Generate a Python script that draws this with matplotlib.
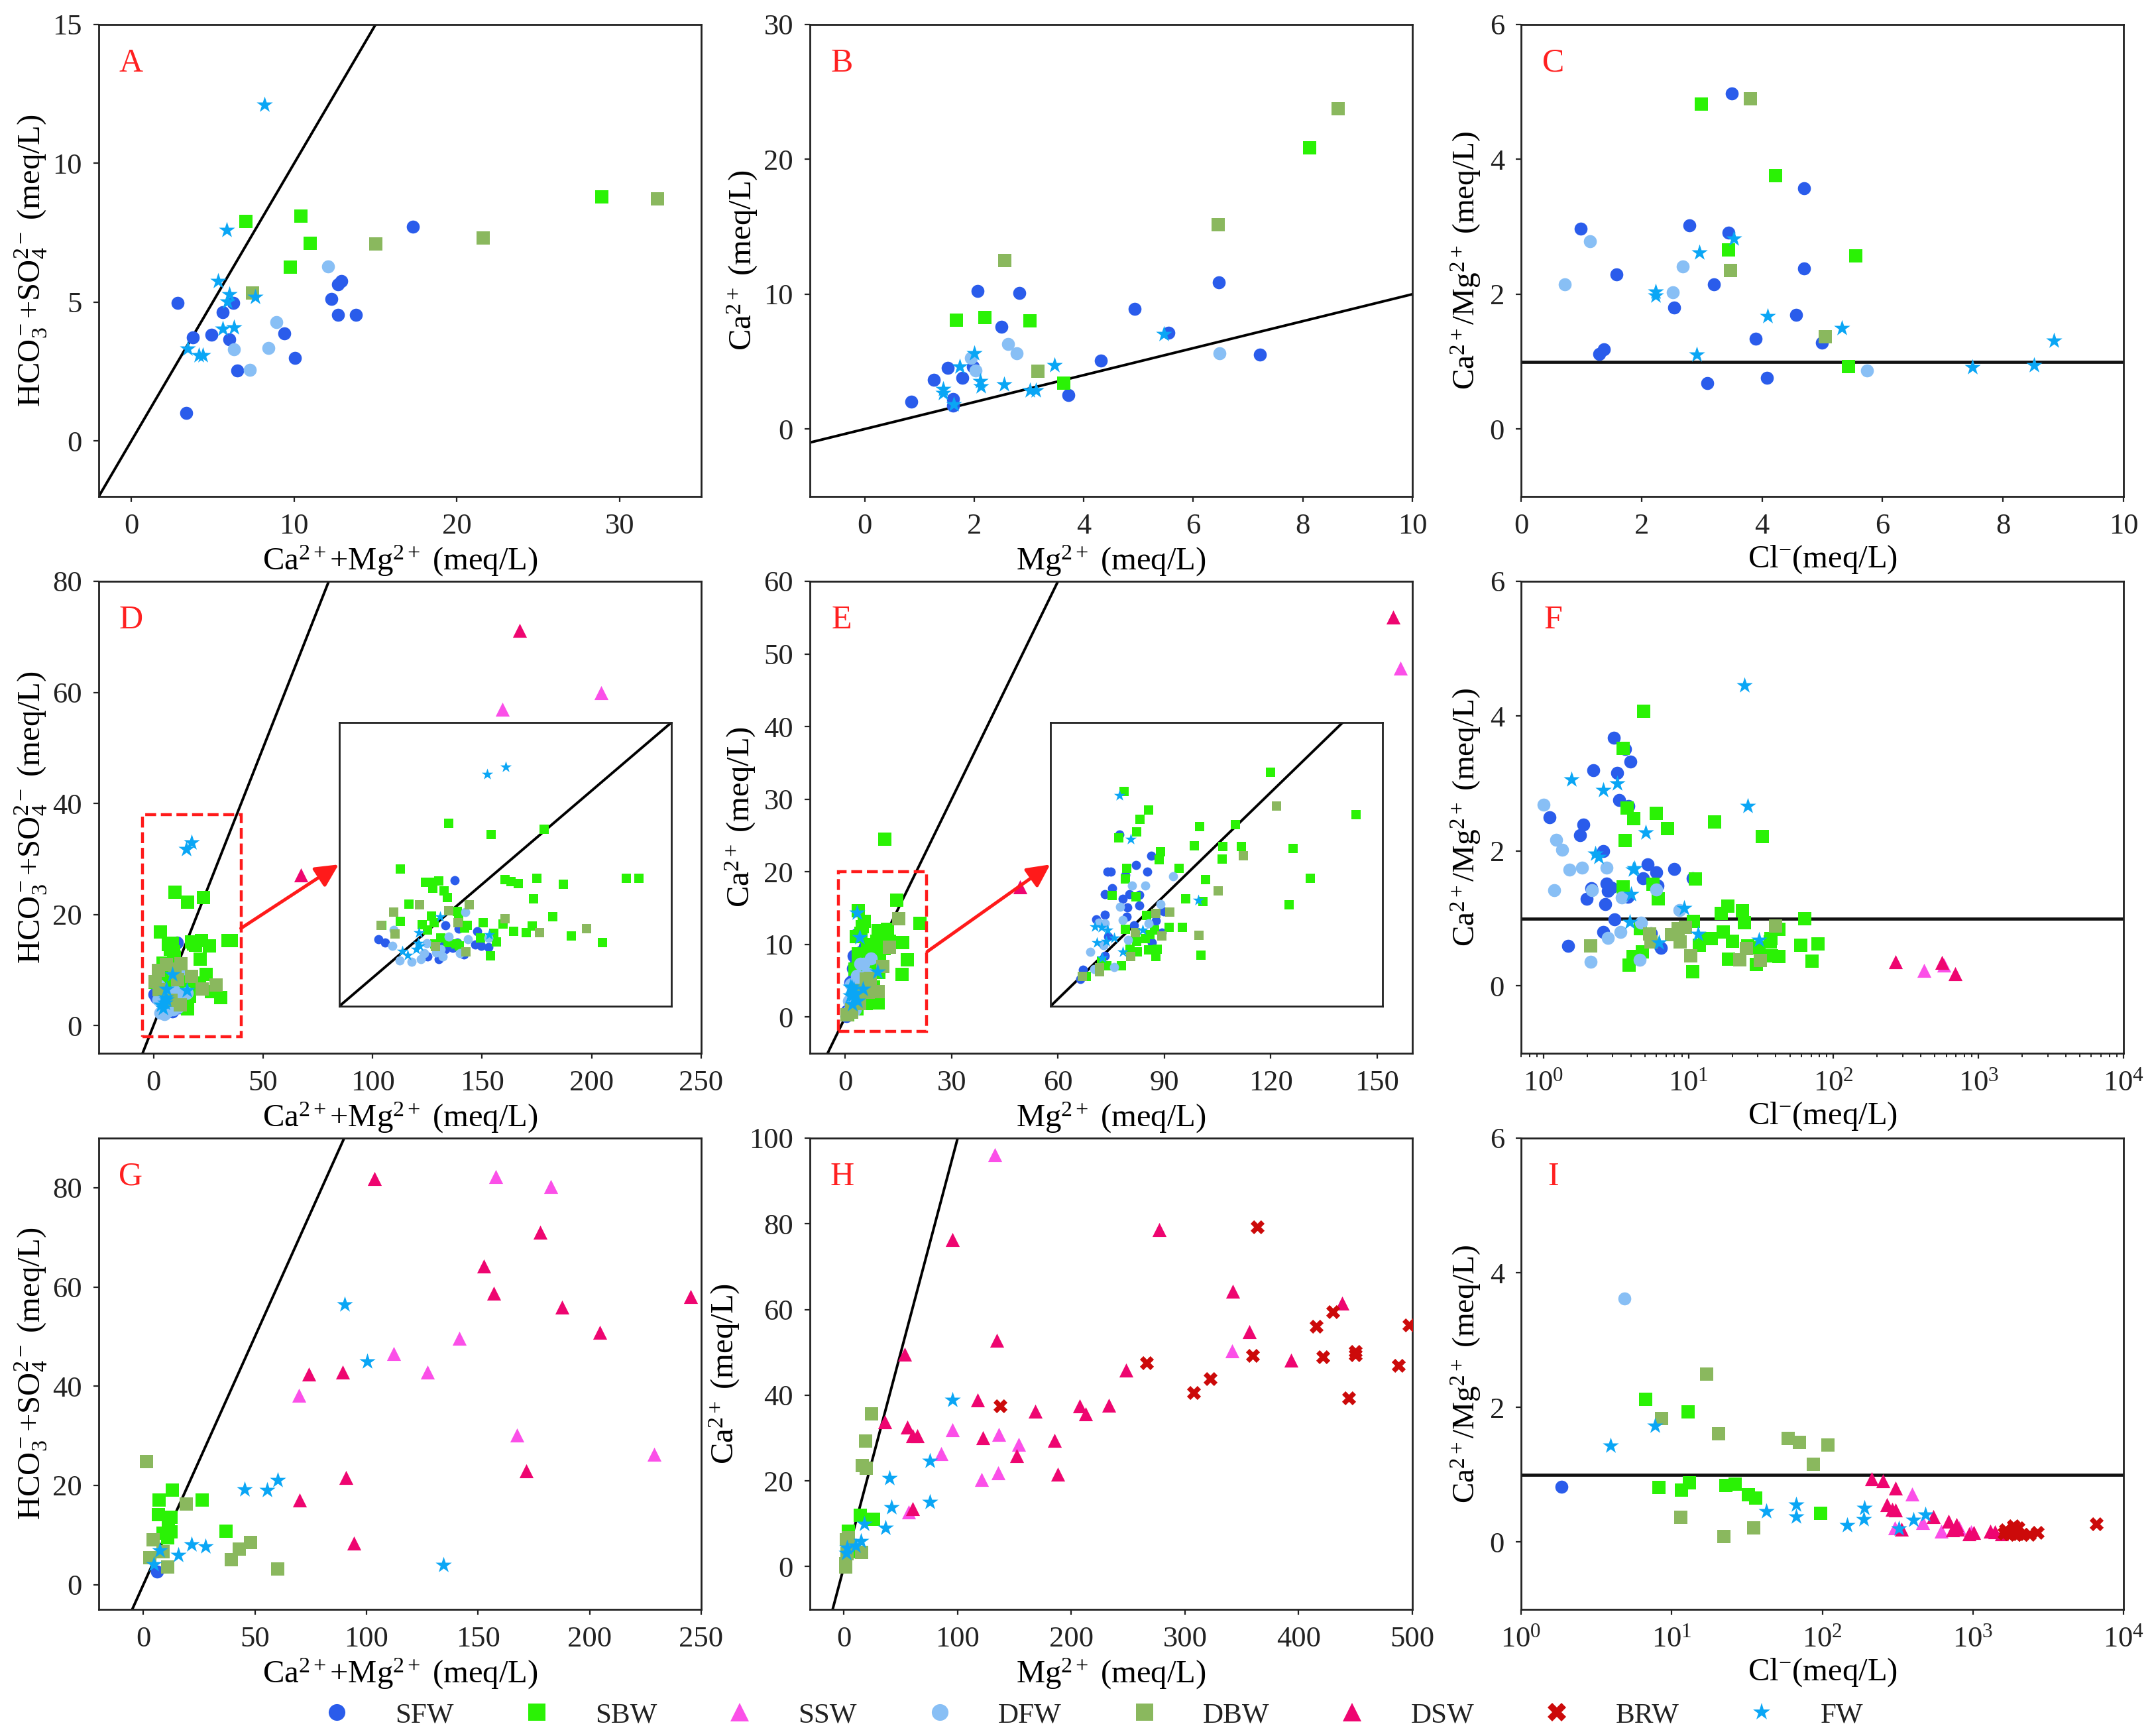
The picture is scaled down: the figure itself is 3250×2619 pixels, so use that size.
"""
plot.py - ion ratio scatter panels (A-I) for the water sample groups.
"""

import matplotlib
matplotlib.use("Agg")
import matplotlib.pyplot as plt
from matplotlib.patches import Rectangle
from matplotlib.ticker import NullLocator

plt.rcParams["font.family"] = ["Liberation Serif", "DejaVu Serif"]
plt.rcParams["mathtext.fontset"] = "custom"
plt.rcParams["mathtext.rm"] = "Liberation Serif"
plt.rcParams["mathtext.it"] = "Liberation Serif:italic"
plt.rcParams["mathtext.bf"] = "Liberation Serif:bold"
plt.rcParams["axes.unicode_minus"] = False

# ── Data (x, y) per panel and group ───────────────────────────────────────────

a_sfw = [(2.85, 4.97), (3.37, 1.0), (3.76, 3.74), (4.9, 3.83), (5.62, 4.63), (6.27, 4.98), (6.0, 3.66), (6.5, 2.54),
         (9.4, 3.88), (10.04, 2.98), (12.3, 5.12), (12.7, 5.65), (12.9, 5.75), (12.7, 4.55), (13.8, 4.55), (17.3, 7.72)]
a_dfw = [(12.1, 6.29), (8.9, 4.27), (8.44, 3.36), (6.3, 3.29), (7.3, 2.56)]
a_sbw = [(7.04, 7.9), (10.4, 8.11), (11.0, 7.13), (9.75, 6.26), (28.9, 8.79)]
a_dbw = [(15.0, 7.09), (21.6, 7.3), (32.3, 8.73), (7.44, 5.33)]
a_fw = [(8.18, 12.1), (5.87, 7.6), (5.33, 5.75), (6.0, 5.28), (5.9, 5.02), (7.6, 5.19), (5.6, 4.04), (6.3, 4.08),
        (3.45, 3.32), (4.16, 3.08), (4.4, 3.08)]

b_sfw = [(0.85, 2.02), (1.26, 3.64), (1.52, 4.54), (1.61, 2.22), (1.61, 1.72), (1.78, 3.78), (1.98, 4.65), (2.06, 10.26),
         (2.82, 10.1), (2.5, 7.58), (3.72, 2.52), (4.31, 5.09), (4.93, 8.89), (5.55, 7.15), (6.47, 10.88), (7.22, 5.5)]
b_dfw = [(2.62, 6.3), (2.78, 5.64), (1.94, 5.29), (2.02, 4.35), (6.48, 5.64)]
b_sbw = [(1.67, 8.09), (2.19, 8.25), (3.02, 8.02), (3.64, 3.41), (8.12, 20.87)]
b_dbw = [(2.56, 12.51), (3.16, 4.31), (6.45, 15.17), (8.64, 23.78)]
b_fw = [(2.0, 5.64), (1.74, 4.65), (1.43, 2.96), (1.43, 2.68), (2.11, 3.55), (2.12, 3.14), (2.54, 3.32), (3.46, 4.74),
        (3.02, 2.86), (3.13, 2.86), (1.63, 1.81), (5.46, 7.03)]

c_sfw = [(0.99, 2.97), (1.58, 2.29), (1.3, 1.11), (1.37, 1.18), (2.54, 1.8), (2.79, 3.02), (3.09, 0.68), (3.2, 2.15),
         (3.44, 2.91), (3.5, 4.98), (3.89, 1.34), (4.08, 0.76), (4.57, 1.69), (4.7, 2.38), (4.7, 3.57), (4.99, 1.28)]
c_dfw = [(0.73, 2.15), (1.14, 2.79), (2.52, 2.03), (2.68, 2.41), (5.74, 0.87)]
c_sbw = [(2.99, 4.82), (3.44, 2.66), (4.22, 3.76), (5.56, 2.57), (5.43, 0.93)]
c_dbw = [(3.81, 4.9), (3.48, 2.35), (5.05, 1.37)]
c_fw = [(2.23, 2.04), (2.23, 1.98), (2.96, 2.62), (3.53, 2.82), (4.09, 1.67), (2.91, 1.1), (5.33, 1.5), (7.49, 0.92),
        (8.52, 0.95), (8.84, 1.31)]

d_sfw = [(10.6, 14.97), (0.34, 5.6), (1.17, 5.07), (9.4, 7.78), (11.17, 7.25), (13.64, 6.9), (13.4, 4.8), (14.2, 4.62),
         (15.18, 4.37), (9.4, 4.09), (10.36, 4.27), (6.99, 2.86), (8.43, 2.51), (11.9, 3.2), (9.08, 4.62), (11.0, 5.14)]
d_sbw = [(9.82, 24.06), (15.54, 22.24), (22.74, 23.05), (3.23, 16.8), (6.67, 14.62), (7.7, 14.62), (8.43, 14.87),
         (7.7, 13.74), (9.17, 13.32), (9.62, 12.27), (17.43, 15.04), (18.24, 14.73), (19.27, 14.45), (21.8, 15.3),
         (25.4, 14.34), (33.86, 15.25), (35.56, 15.32), (21.3, 11.99), (23.96, 9.18), (4.45, 11.2), (3.29, 8.48),
         (7.47, 9.25), (11.0, 10.06), (11.16, 9.0), (6.25, 7.95), (7.86, 8.2), (6.99, 7.07), (12.3, 7.78), (12.0, 7.4),
         (14.48, 8.2), (17.2, 7.99), (18.6, 6.9), (21.1, 7.7), (20.3, 6.65), (26.4, 6.1), (30.7, 5.07), (15.9, 6.55),
         (14.1, 5.78), (16.3, 5.25), (15.5, 2.97), (8.76, 5.85), (7.95, 4.9), (9.72, 5.14), (10.85, 4.9), (11.3, 4.62),
         (0.72, 7.78)]
d_ssw = [(159.3, 56.9), (204.4, 59.9)]
d_dfw = [(2.17, 4.62), (2.39, 7.14), (3.13, 2.23), (4.83, 2.09), (6.02, 2.51), (6.5, 3.39), (6.89, 4.97), (8.98, 2.86),
         (8.11, 3.56), (9.78, 6.09), (11.33, 3.39), (12.39, 5.67), (12.03, 9.88), (15.25, 5.85), (8.76, 4.09)]
d_dbw = [(5.86, 11.04), (2.33, 9.95), (0.66, 7.85), (2.55, 6.51), (9.78, 10.13), (12.6, 11.08), (11.1, 8.3), (17.43, 8.9),
         (22.1, 6.62), (28.46, 7.32), (8.0, 4.51), (12.2, 3.67)]
d_dsw = [(167.0, 71.2), (67.4, 27.1)]
d_fw = [(17.5, 33.0), (15.0, 31.8), (8.66, 9.18), (5.8, 6.62), (15.34, 6.37), (3.52, 3.74), (4.26, 3.1), (5.38, 4.09),
        (5.86, 4.62), (5.7, 4.97)]

e_sfw = [(3.17, 11.32), (5.6, 9.69), (4.45, 8.95), (5.27, 8.45), (2.28, 8.45), (2.55, 8.45), (3.65, 8.19), (2.64, 7.16),
         (2.1, 6.68), (3.94, 6.68), (4.69, 6.65), (3.44, 6.31), (4.69, 5.79), (3.8, 5.65), (2.1, 5.1), (1.42, 4.73),
         (3.74, 4.93), (6.52, 5.36), (5.92, 4.62), (4.28, 4.28), (2.33, 3.42), (5.63, 2.96), (2.07, 1.9), (0.46, 0.81),
         (0.23, 0.13), (6.38, 3.73)]
e_sbw = [(11.1, 24.5), (3.56, 14.65), (5.4, 13.19), (4.72, 12.48), (4.49, 11.52), (3.13, 11.08), (14.58, 16.12),
         (9.23, 11.93), (11.94, 12.07), (8.84, 10.46), (6.26, 10.0), (6.2, 9.36), (10.98, 10.39), (12.39, 10.39),
         (10.93, 9.43), (21.0, 12.88), (16.24, 10.22), (7.68, 8.71), (3.72, 8.71), (3.62, 7.85), (9.68, 7.82),
         (17.54, 7.9), (8.2, 6.34), (9.46, 6.13), (15.95, 5.89), (2.64, 6.6), (4.42, 6.49), (5.22, 5.02), (3.65, 3.94),
         (6.95, 4.11), (7.93, 4.11), (5.85, 3.9), (5.49, 3.56), (5.13, 3.22), (4.51, 3.05), (3.97, 2.44), (4.56, 2.22),
         (5.4, 2.39), (6.02, 2.44), (5.92, 1.84), (9.32, 1.98), (3.35, 1.12), (2.24, 1.16), (1.83, 1.5), (0.71, 0.3)]
e_ssw = [(156.7, 48.0)]
e_dfw = [(7.22, 8.06), (4.15, 7.34), (5.13, 7.34), (6.26, 5.93), (3.26, 5.7), (3.44, 4.68), (1.66, 4.5), (2.1, 4.42),
         (5.38, 4.42), (3.85, 3.13), (2.01, 2.74), (1.0, 2.22), (2.81, 1.02), (1.3, 0.9)]
e_dbw = [(15.0, 13.5), (12.5, 9.65), (10.62, 6.92), (6.99, 5.28), (5.92, 5.21), (4.37, 3.68), (6.4, 3.44), (9.18, 3.51),
         (4.06, 1.88), (1.69, 0.99), (1.69, 0.68), (0.42, 0.3)]
e_dsw = [(154.5, 55.1), (49.3, 17.9)]
e_fw = [(3.2, 14.37), (4.06, 10.94), (9.14, 6.22), (4.92, 3.9), (1.35, 4.16), (1.83, 4.11), (2.28, 3.9), (2.81, 3.3),
        (1.48, 2.92), (2.19, 3.05), (3.44, 2.22), (1.89, 1.76)]

f_sfw = [(3.07, 3.68), (3.66, 3.51), (3.97, 3.33), (2.2, 3.2), (3.21, 3.16), (3.33, 2.76), (3.86, 2.67), (1.1, 2.5),
         (1.89, 2.39), (1.78, 2.23), (2.59, 2.0), (5.22, 1.8), (5.97, 1.68), (7.95, 1.73), (4.85, 1.6), (10.7, 1.6),
         (6.14, 1.49), (2.73, 1.52), (2.94, 1.46), (2.77, 1.41), (2.14, 1.45), (1.99, 1.29), (2.67, 1.21), (3.8, 1.32),
         (3.09, 0.99), (2.59, 0.8), (1.48, 0.59), (6.42, 0.56), (5.5, 0.78)]
f_sbw = [(4.92, 4.07), (3.53, 3.52), (3.78, 2.64), (4.19, 2.48), (6.0, 2.56), (7.17, 2.33), (3.64, 2.16), (15.1, 2.43),
         (32.3, 2.21), (11.1, 1.59), (3.53, 1.47), (5.71, 1.51), (6.19, 1.29), (18.6, 1.18), (16.8, 1.07), (23.5, 1.11),
         (24.3, 0.94), (10.8, 0.96), (63.2, 1.0), (4.64, 0.85), (41.9, 0.84), (17.3, 0.8), (12.9, 0.7), (14.4, 0.7),
         (20.0, 0.66), (37.2, 0.7), (36.6, 0.65), (11.9, 0.6), (25.5, 0.59), (59.2, 0.6), (78.4, 0.62), (30.7, 0.56),
         (18.9, 0.4), (37.5, 0.45), (41.9, 0.44), (71.2, 0.37), (29.4, 0.32), (10.7, 0.21), (3.89, 0.31), (4.15, 0.44),
         (4.82, 0.5)]
f_ssw = [(419, 0.23), (575, 0.31)]
f_dfw = [(1.0, 2.69), (1.22, 2.17), (1.34, 2.02), (1.51, 1.72), (1.85, 1.75), (2.73, 1.75), (1.19, 1.42), (2.15, 1.42),
         (3.45, 1.31), (5.97, 1.43), (8.69, 1.12), (4.68, 0.94), (3.4, 0.8), (2.77, 0.71), (2.11, 0.36), (4.6, 0.39)]
f_dbw = [(2.12, 0.59), (5.42, 0.77), (5.5, 0.65), (7.67, 0.76), (8.44, 0.85), (9.57, 0.87), (8.75, 0.65), (10.4, 0.45),
         (39.8, 0.89), (25.2, 0.55), (22.5, 0.39), (31.2, 0.38)]
f_dsw = [(268, 0.36), (562, 0.35), (692, 0.18)]
f_fw = [(24.3, 4.46), (25.5, 2.67), (1.55, 3.06), (3.23, 3.0), (2.57, 2.9), (5.07, 2.27), (2.27, 1.96), (2.39, 1.91),
        (4.15, 1.72), (4.25, 1.74), (4.03, 1.36), (9.36, 1.15), (3.95, 0.95), (11.6, 0.77), (6.28, 0.64), (30.7, 0.68)]

g_sfw = [(6.25, 2.56)]
g_sbw = [(6.9, 17.0), (12.9, 19.0), (26.25, 17.0), (6.67, 14.15), (12.5, 13.6), (11.25, 11.83), (8.75, 10.4), (12.5, 10.63),
         (10.8, 9.43), (36.9, 10.7)]
g_ssw = [(157.9, 82.3), (182.5, 80.3), (141.5, 49.6), (112.1, 46.6), (127.3, 42.8), (69.8, 38.1), (167.3, 30.1), (229.0, 26.2)]
g_dbw = [(1.46, 24.8), (19.2, 16.3), (4.4, 9.0), (8.75, 6.6), (2.9, 5.36), (10.8, 3.6), (39.4, 5.04), (42.9, 7.2),
         (48.1, 8.55), (60.2, 3.2)]
g_dsw = [(103.5, 81.9), (177.7, 71.0), (152.7, 64.2), (157.1, 58.8), (245.2, 58.1), (187.7, 55.9), (204.6, 50.9),
         (74.2, 42.4), (89.4, 42.8), (90.8, 21.6), (171.5, 22.9), (70.0, 17.0), (94.4, 8.4)]
g_fw = [(90.2, 56.5), (100.2, 45.0), (60.2, 21.1), (45.4, 19.2), (55.4, 19.1), (21.7, 8.15), (27.7, 7.75), (15.6, 5.9),
        (7.3, 6.87), (4.6, 4.1), (134.4, 4.0)]

h_sbw = [(14.3, 12.0), (25.8, 11.0), (21.7, 11.0), (4.1, 8.3), (6.1, 3.4)]
h_ssw = [(132.6, 96.1), (341.6, 50.4), (95.3, 32.0), (136.3, 30.9), (153.8, 28.5), (85.5, 26.4), (135.8, 21.8),
         (121.1, 20.3), (56.9, 12.8)]
h_dbw = [(24.5, 35.6), (18.8, 29.3), (16.0, 23.5), (19.6, 23.0), (4.0, 6.7), (2.0, 6.2), (15.5, 3.3), (1.6, 0.65),
         (1.6, -0.1), (2.9, 3.0)]
h_dsw = [(277.4, 78.7), (95.3, 76.3), (342.0, 64.2), (438.2, 61.4), (134.6, 52.8), (356.8, 54.9), (53.2, 49.5),
         (393.2, 48.1), (248.4, 45.8), (117.8, 38.9), (168.2, 36.2), (207.4, 37.5), (212.8, 35.6), (233.2, 37.6),
         (36.0, 33.8), (56.0, 32.6), (60.1, 30.6), (64.2, 30.6), (122.3, 30.0), (185.4, 29.5), (151.8, 25.9),
         (188.2, 21.6), (60.1, 13.5)]
h_brw = [(363.7, 79.3), (415.7, 56.0), (430.0, 59.5), (497.0, 56.4), (359.2, 49.3), (421.4, 48.9), (450.0, 50.2),
         (450.0, 49.4), (266.0, 47.6), (487.7, 46.9), (307.7, 40.6), (322.0, 43.9), (444.0, 39.4), (137.5, 37.5)]
h_fw = [(95.3, 38.9), (75.3, 24.7), (39.7, 20.6), (41.7, 13.9), (75.3, 15.1), (17.6, 9.9), (36.4, 9.1), (15.1, 5.9),
        (10.2, 4.8), (2.9, 4.35), (2.0, 3.15)]

i_sfw = [(1.86, 0.82)]
i_sbw = [(6.72, 2.12), (12.8, 1.93), (8.25, 0.81), (11.6, 0.77), (13.1, 0.88), (23.0, 0.84), (26.3, 0.86), (32.3, 0.7),
         (36.0, 0.65), (97.2, 0.43)]
i_ssw = [(394, 0.71), (464, 0.29), (303, 0.21), (617, 0.16), (807, 0.21), (977, 0.15)]
i_dfw = [(4.84, 3.62)]
i_dbw = [(17.0, 2.5), (8.61, 1.84), (20.5, 1.61), (59.1, 1.54), (70.6, 1.48), (109.0, 1.44), (87.4, 1.16), (11.5, 0.37),
         (22.2, 0.08), (34.9, 0.21)]
i_dsw = [(212, 0.94), (252, 0.91), (307, 0.8), (269, 0.56), (292, 0.49), (307, 0.48), (335, 0.19), (547, 0.38), (686, 0.31),
         (780, 0.26), (736, 0.18), (791, 0.19), (945, 0.12), (1014, 0.14), (1300, 0.16), (1396, 0.15), (1553, 0.12)]
i_brw = [(6577, 0.27), (2685, 0.14), (2382, 0.11), (2138, 0.11), (1995, 0.21), (1858, 0.24), (1791, 0.15), (1644, 0.18),
         (1611, 0.13), (1923, 0.11), (1750, 0.12), (1995, 0.12)]
i_fw = [(3.94, 1.43), (7.74, 1.73), (42.4, 0.46), (67.1, 0.56), (67.1, 0.38), (146, 0.25), (188, 0.34), (190, 0.51),
        (321, 0.2), (403, 0.33), (481, 0.41)]

PANELS = {
    "A": {"SFW": a_sfw, "SBW": a_sbw, "DFW": a_dfw, "DBW": a_dbw, "FW": a_fw},
    "B": {"SFW": b_sfw, "SBW": b_sbw, "DFW": b_dfw, "DBW": b_dbw, "FW": b_fw},
    "C": {"SFW": c_sfw, "SBW": c_sbw, "DFW": c_dfw, "DBW": c_dbw, "FW": c_fw},
    "D": {"SFW": d_sfw, "SBW": d_sbw, "SSW": d_ssw, "DFW": d_dfw, "DBW": d_dbw, "DSW": d_dsw, "FW": d_fw},
    "E": {"SFW": e_sfw, "SBW": e_sbw, "SSW": e_ssw, "DFW": e_dfw, "DBW": e_dbw, "DSW": e_dsw, "FW": e_fw},
    "F": {"SFW": f_sfw, "SBW": f_sbw, "SSW": f_ssw, "DFW": f_dfw, "DBW": f_dbw, "DSW": f_dsw, "FW": f_fw},
    "G": {"SFW": g_sfw, "SBW": g_sbw, "SSW": g_ssw, "DBW": g_dbw, "DSW": g_dsw, "FW": g_fw},
    "H": {"SBW": h_sbw, "SSW": h_ssw, "DBW": h_dbw, "DSW": h_dsw, "BRW": h_brw, "FW": h_fw},
    "I": {"SFW": i_sfw, "SBW": i_sbw, "SSW": i_ssw, "DFW": i_dfw, "DBW": i_dbw, "DSW": i_dsw, "BRW": i_brw, "FW": i_fw},
}

# ── Styles and layout ─────────────────────────────────────────────────────────

GROUP_ORDER = ["SFW", "SBW", "SSW", "DFW", "DBW", "DSW", "BRW", "FW"]
COLORS = {"SFW": "#2a5ceb", "SBW": "#2af205", "SSW": "#fb4fe8", "DFW": "#88bff5",
          "DBW": "#8ab85e", "DSW": "#ee0570", "BRW": "#cc0a0a", "FW": "#0aa6f5"}
MARKERS = {"SFW": "o", "SBW": "s", "SSW": "^", "DFW": "o", "DBW": "s", "DSW": "^", "BRW": "X", "FW": "*"}
SIZES = {"o": 50, "s": 52, "^": 58, "X": 58, "*": 85}

FIG_W, FIG_H = 3250, 2619
COLS = [(149, 1058), (1222, 2131), (2295, 3204)]
ROWS = [(37, 749), (877, 1589), (1717, 2428)]

LBL_SUM = r"Ca$^{2+}$+Mg$^{2+}$ (meq/L)"
LBL_ANION = r"HCO$_3^-$+SO$_4^{2-}$ (meq/L)"
LBL_MG = r"Mg$^{2+}$ (meq/L)"
LBL_CA = r"Ca$^{2+}$ (meq/L)"
LBL_CL = r"Cl$^{-}$(meq/L)"
LBL_RATIO = r"Ca$^{2+}$/Mg$^{2+}$ (meq/L)"

# panel: xlabel, ylabel, xlim, ylim, xticks, yticks, ylabel x position
AXES_SETUP = {
    "A": (LBL_SUM, LBL_ANION, (-2, 35), (-2, 15), [0, 10, 20, 30], [0, 5, 10, 15], -0.0825),
    "B": (LBL_MG, LBL_CA, (-1, 10), (-5, 30), [0, 2, 4, 6, 8, 10], [0, 10, 20, 30], -0.084),
    "C": (LBL_CL, LBL_RATIO, (0, 10), (-1, 6), [0, 2, 4, 6, 8, 10], [0, 2, 4, 6], -0.063),
    "D": (LBL_SUM, LBL_ANION, (-25, 250), (-5, 80), [0, 50, 100, 150, 200, 250], [0, 20, 40, 60, 80], -0.0825),
    "E": (LBL_MG, LBL_CA, (-10, 160), (-5, 60), [0, 30, 60, 90, 120, 150], [0, 10, 20, 30, 40, 50, 60], -0.087),
    "F": (LBL_CL, LBL_RATIO, (0.7, 1e4), (-1, 6), None, [0, 2, 4, 6], -0.063),
    "G": (LBL_SUM, LBL_ANION, (-20, 250), (-5, 90), [0, 50, 100, 150, 200, 250], [0, 20, 40, 60, 80], -0.0825),
    "H": (LBL_MG, LBL_CA, (-30, 500), (-10, 100), [0, 100, 200, 300, 400, 500], [0, 20, 40, 60, 80, 100], -0.113),
    "I": (LBL_CL, LBL_RATIO, (1, 1e4), (-1, 6), None, [0, 2, 4, 6], -0.063),
}

# inset zoom boxes: pixel box of the inset, its limits, dashed box, arrow
INSETS = {
    "D": {"px": (512, 1013, 1090, 1518), "lim": ((-5, 40), (-5, 40)),
          "box": (-5, -2, 45, 40), "arrow": ((39.9, 17.5), (84.5, 29.0))},
    "E": {"px": (1585, 2086, 1090, 1518), "lim": ((-2, 23), (-2, 20)),
          "box": (-2, -2, 25, 22), "arrow": ((23.1, 9.0), (57.8, 21.0))},
}


# ── Helpers ───────────────────────────────────────────────────────────────────

def px_axes(fig, left, right, top, bottom):
    """Add axes from a box given in image pixels (origin top-left)."""
    return fig.add_axes([left / FIG_W, 1 - bottom / FIG_H, (right - left) / FIG_W, (bottom - top) / FIG_H])


def draw_groups(ax, groups, scale=1.0):
    for name in GROUP_ORDER:
        if name not in groups:
            continue
        xs = [p[0] for p in groups[name]]
        ys = [p[1] for p in groups[name]]
        marker = MARKERS[name]
        ax.scatter(xs, ys, s=SIZES[marker] * scale, c=COLORS[name], marker=marker, linewidths=0, zorder=3)


def draw_reference(ax, letter):
    if letter in "CFI":
        ax.axhline(1, color="#111111", lw=1.7, zorder=2)
    else:
        # 1:1 line, stretched past the limits and clipped by the axes
        ax.plot([-1000, 1000], [-1000, 1000], color="black", lw=1.4, zorder=2)


def style_axes(ax, letter):
    xlabel, ylabel, xlim, ylim, xticks, yticks, ylab_x = AXES_SETUP[letter]
    if xticks is None:
        ax.set_xscale("log")
        ax.set_xticks([1, 10, 100, 1000, 10000])
    else:
        ax.set_xticks(xticks)
    if letter == "I":
        ax.xaxis.set_minor_locator(NullLocator())
    ax.set_yticks(yticks)
    ax.set_xlim(xlim)
    ax.set_ylim(ylim)
    ax.tick_params(which="major", length=3, width=0.8, pad=6, labelsize=16, colors="#222222")
    ax.tick_params(which="minor", length=2, width=0.6)
    ax.set_xlabel(xlabel, fontsize=17.5, va="top")
    ax.xaxis.set_label_coords(0.5, -0.1)
    ax.set_ylabel(ylabel, fontsize=17 if letter in "CFI" else 17.5)
    ax.yaxis.set_label_coords(ylab_x, 0.5)
    for spine in ax.spines.values():
        spine.set_linewidth(1.0)
        spine.set_color("#222222")
    ax.text(0.053, 0.918, letter, transform=ax.transAxes, color="#ff2020", fontsize=18, ha="center", va="center")


def add_inset(fig, ax, letter, groups):
    spec = INSETS[letter]
    left, right, top, bottom = spec["px"]
    inset = px_axes(fig, left, right, top, bottom)
    draw_groups(inset, groups, scale=0.5)
    draw_reference(inset, letter)
    inset.set_xlim(spec["lim"][0])
    inset.set_ylim(spec["lim"][1])
    inset.set_xticks([])
    inset.set_yticks([])
    for spine in inset.spines.values():
        spine.set_linewidth(1.0)
        spine.set_color("#222222")

    x0, y0, w, h = spec["box"]
    ax.add_patch(Rectangle((x0, y0), w, h, fill=False, ec="#ff1a1a", ls="--", lw=1.6, zorder=5))
    start, tip = spec["arrow"]
    ax.annotate("", xy=tip, xytext=start, zorder=6,
                arrowprops=dict(arrowstyle="-|>", color="#ff1a1a", lw=1.8, mutation_scale=26,
                                shrinkA=0, shrinkB=0))


# ── Main ──────────────────────────────────────────────────────────────────────

def main():
    fig = plt.figure(figsize=(FIG_W / 200, FIG_H / 200), dpi=200)

    letters = "ABCDEFGHI"
    for idx, letter in enumerate(letters):
        left, right = COLS[idx % 3]
        top, bottom = ROWS[idx // 3]
        ax = px_axes(fig, left, right, top, bottom)
        draw_groups(ax, PANELS[letter])
        draw_reference(ax, letter)
        style_axes(ax, letter)
        if letter in INSETS:
            add_inset(fig, ax, letter, PANELS[letter])

    handles = [plt.Line2D([], [], ls="none", marker=MARKERS[g], color=COLORS[g], markeredgewidth=0,
                          markersize=(SIZES[MARKERS[g]] ** 0.5) * (1.28 if MARKERS[g] != "*" else 1.1))
               for g in GROUP_ORDER]
    fig.legend(handles, GROUP_ORDER, ncol=8, frameon=False, fontsize=15.5, loc="center",
               bbox_to_anchor=(0.504, 0.012), handletextpad=1.05, columnspacing=1.9, numpoints=1,
               labelcolor="#222222")

    fig.savefig("out.png", dpi=200)
    plt.close(fig)


if __name__ == "__main__":
    main()
